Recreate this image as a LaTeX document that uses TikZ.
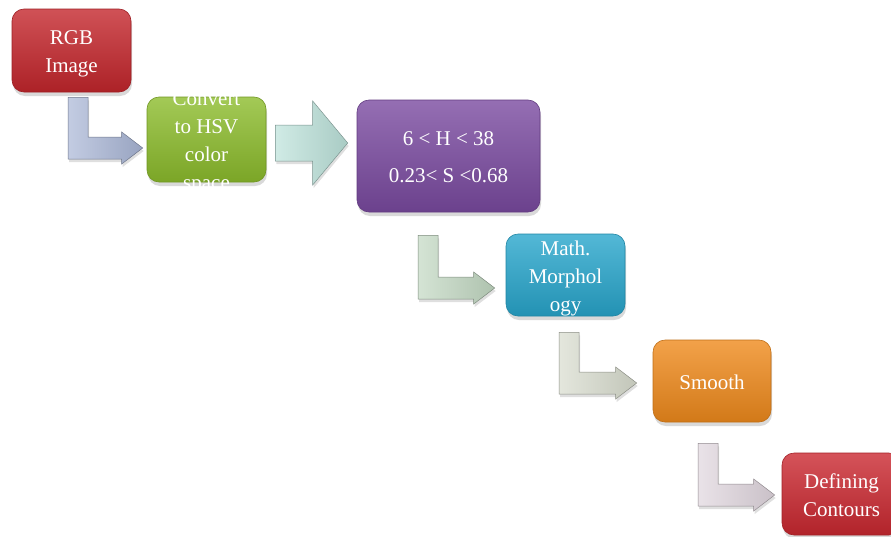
\documentclass[tikz,border=0pt]{standalone}
\usepackage{fontspec}
\setmainfont{Liberation Serif}
\usetikzlibrary{calc,shadows}

\definecolor{rgbred}{HTML}{C4262C}
\definecolor{hsvgreen}{HTML}{8CBC2C}
\definecolor{rangepurple}{HTML}{7A4AA0}
\definecolor{morphcyan}{HTML}{28A6CC}
\definecolor{smoothorange}{HTML}{EF8A1C}
\definecolor{contourred}{HTML}{CA2830}
\definecolor{arrowblue}{HTML}{A9B6D6}
\definecolor{arrowaqua}{HTML}{BCE2DA}
\definecolor{arrowsage}{HTML}{C2D8C2}
\definecolor{arrowstone}{HTML}{D8DCCE}
\definecolor{arrowrose}{HTML}{E0D6DE}

\newcommand\stagetext[1]{\smash{\raisebox{-8pt}{\begin{tabular}{@{}c@{}}#1\end{tabular}}}}
\newcommand\bentarrow[3]{%
  \path[arrowbody=#1] let \p1=(#2), \p2=(#3) in
    (\x1,\y1) -- (\x1+20pt,\y1) -- (\x1+20pt,\y2+11pt) -- (\x2-21pt,\y2+11pt)
    -- (\x2-21pt,\y2+16pt) -- (\x2,\y2) -- (\x2-21pt,\y2-16pt)
    -- (\x2-21pt,\y2-11pt) -- (\x1,\y2-11pt) -- cycle;}
\newcommand\blockarrow[3]{%
  \path[arrowbody=#1] let \p1=(#2), \p2=(#3) in
    (\x1,\y2+18pt) -- (\x2-35pt,\y2+18pt) -- (\x2-35pt,\y2+42pt) -- (\x2,\y2)
    -- (\x2-35pt,\y2-42pt) -- (\x2-35pt,\y2-18pt) -- (\x1,\y2-18pt) -- cycle;}

\begin{document}
\begin{tikzpicture}[x=1pt, y=-1pt,
    stage/.style={rounded corners=12pt, minimum width=119pt, minimum height=83pt,
      inner sep=0pt, text=white, font=\fontsize{21}{28}\selectfont,
      top color=#1!80!white, middle color=#1, bottom color=#1!88!black,
      draw=#1!80!black, line width=0.6pt,
      drop shadow={shadow xshift=1pt, shadow yshift=-4pt, opacity=0.3}},
    arrowbody/.style={left color=#1!70!white, right color=#1!90!black, draw=#1!65!black,
      line width=0.5pt,
      drop shadow={shadow xshift=1pt, shadow yshift=-3pt, opacity=0.25}}]

    \useasboundingbox (0,0) rectangle (891,536);
    \clip (0,0) rectangle (891,536);

    \node[stage=rgbred] (rgb) at (71.5,50.5) {\stagetext{RGB\\Image}};
    \node[stage=hsvgreen, minimum height=85pt] (hsv) at (206.5,139.5)
        {\stagetext{Convert\\to HSV\\color\\space}};
    \node[stage=rangepurple, minimum width=183pt, minimum height=112pt] (range) at (448.5,156)
        {\stagetext{6 < H < 38\\[9pt]0.23< S <0.68}};
    \node[stage=morphcyan, minimum height=82pt] (morph) at (565.5,275)
        {\stagetext{Math.\\Morphol\\ogy}};
    \node[stage=smoothorange, minimum width=118pt, minimum height=82pt] (smooth) at (712,381)
        {\stagetext{Smooth}};
    \node[stage=contourred, minimum height=82pt] (contour) at (841.5,494)
        {\stagetext{Defining\\Contours}};

    \bentarrow{arrowblue}{$(rgb.south)+(-3.5,5)$}{$(hsv.west)+(-4,8.5)$}
    \blockarrow{arrowaqua}{$(hsv.east)+(9,0)$}{$(range.west)+(-9,-13)$}
    \bentarrow{arrowsage}{$(range.south)+(-30.5,23)$}{$(morph.west)+(-11,13)$}
    \bentarrow{arrowstone}{$(morph.south)+(-6.5,16)$}{$(smooth.west)+(-16,2)$}
    \bentarrow{arrowrose}{$(smooth.south)+(-14,21)$}{$(contour.west)+(-7,1)$}

\end{tikzpicture}
\end{document}
